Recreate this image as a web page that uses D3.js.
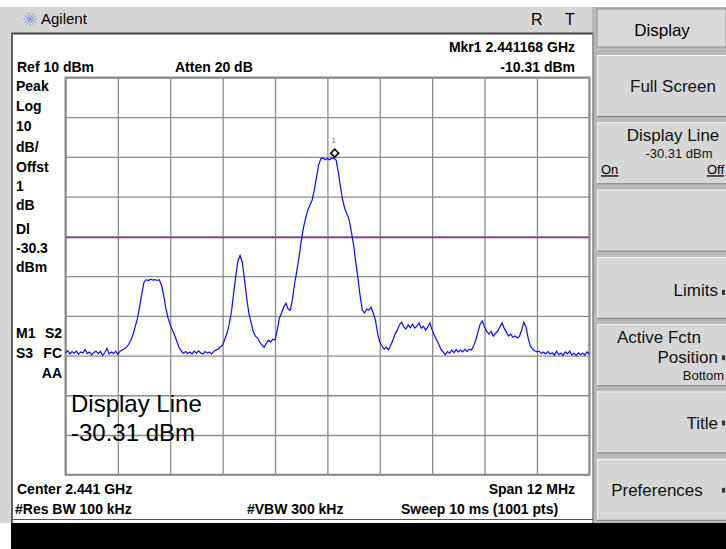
<!DOCTYPE html>
<html><head><meta charset="utf-8">
<script src="https://cdn.jsdelivr.net/npm/d3@7"></script>
<style>body{margin:0;background:#fff;overflow:hidden}svg{display:block}</style>
</head><body>
<svg id="c" width="726" height="549"></svg>
<script>
// ---- Data ----
const startMHz = 2435, stopMHz = 2447;           // Center 2.441 GHz, Span 12 MHz
const refLevelDbm = 10, dbPerDiv = 10, divisions = 10;
const markerFreqMHz = 2441.168, markerDbm = -10.31;
const displayLineDbm = -30.31;
// trace amplitudes (dBm), evenly spaced across the sweep
const traceDbm = [
-59.3,-58.8,-59.6,-59.0,-59.4,-58.9,-59.7,-59.1,-59.3,-58.5,
-59.5,-59.1,-59.8,-59.2,-58.9,-59.5,-59.0,-60.0,-59.3,-58.2,
-59.6,-59.1,-59.5,-58.9,-59.7,-58.9,-58.6,-58.3,-57.9,-57.1,
-56.1,-54.6,-52.6,-50.6,-47.6,-44.3,-41.5,-40.9,-41.1,-40.8,
-41.0,-40.9,-41.1,-40.9,-42.3,-45.0,-48.1,-50.6,-52.3,-53.6,
-54.9,-56.4,-57.9,-58.9,-59.4,-59.0,-59.5,-59.1,-59.6,-58.9,
-59.4,-58.8,-59.4,-59.6,-59.0,-59.4,-59.1,-59.6,-58.9,-58.6,
-58.4,-57.8,-57.4,-55.9,-54.4,-52.1,-49.1,-44.5,-40.0,-36.2,
-34.8,-36.5,-40.8,-45.5,-49.3,-51.6,-53.9,-55.1,-55.6,-56.6,
-57.4,-57.9,-56.9,-56.1,-56.6,-55.9,-56.1,-53.6,-50.6,-49.3,
-47.8,-46.8,-48.3,-48.6,-45.8,-41.8,-38.7,-35.2,-31.2,-27.9,
-25.4,-23.4,-22.1,-20.9,-18.3,-15.1,-12.0,-10.4,-10.3,-10.7,
-10.4,-10.7,-10.3,-10.35,-10.8,-13.8,-17.6,-20.9,-23.1,-24.4,
-25.9,-28.9,-32.2,-36.5,-40.5,-45.0,-48.6,-49.3,-48.3,-48.6,
-47.8,-49.3,-51.1,-54.4,-56.6,-57.6,-58.4,-57.9,-58.6,-57.4,
-56.1,-54.6,-53.6,-52.3,-51.6,-52.8,-53.3,-52.3,-53.0,-52.1,
-53.1,-52.6,-51.8,-53.1,-52.6,-53.6,-52.8,-51.8,-53.6,-54.9,
-56.1,-57.1,-58.4,-59.1,-59.8,-59.0,-59.4,-58.6,-59.3,-58.5,
-59.1,-58.6,-59.1,-58.4,-59.0,-58.4,-58.6,-57.6,-56.1,-54.1,
-52.1,-51.3,-52.8,-53.9,-54.6,-53.9,-55.1,-54.4,-53.9,-52.8,
-51.8,-53.1,-54.1,-55.1,-54.6,-55.4,-55.1,-55.6,-55.1,-53.6,
-51.6,-52.8,-55.6,-57.6,-58.4,-58.8,-59.1,-58.9,-59.5,-59.1,
-59.6,-59.0,-59.6,-59.3,-59.9,-58.9,-59.8,-59.4,-60.0,-59.1,
-59.6,-58.9,-59.9,-59.4,-60.0,-59.3,-59.8,-59.4,-59.9,-59.1,
-59.6
];
const headerLeft = ["Ref 10 dBm", "Atten 20 dB"];
const headerRight = ["Mkr1  2.441168 GHz", "-10.31 dBm"];
const sideLabels = ["Peak","Log","10","dB/","Offst","1","dB","Dl","-30.3","dBm"];
const statusLabels = [["M1","S2"],["S3","FC"],["","AA"]];
const footer = ["Center 2.441 GHz","Span 12 MHz","#Res BW 100 kHz","#VBW 300 kHz","Sweep 10 ms (1001 pts)"];
const activeFn = ["Display Line","-30.31 dBm"];
const softkeys = [
  {lines:[["Full Screen","middle",76,37,17]]},
  {lines:[["Display Line","middle",76,19,17],["-30.31 dBm","middle",82,36,13]], onoff:true},
  {lines:[]},
  {lines:[["Limits","end",121,39,17]], arrow:36},
  {lines:[["Active Fctn","middle",62,19,17],["Position","end",121,39,17],["Bottom","end",127,56,13]], arrow:34},
  {lines:[["Title","end",121,37,17]], arrow:32},
  {lines:[["Preferences","middle",60,37,17]], arrow:32}
];

// ---- Drawing ----
const svg = d3.select("#c");
const font = "'Liberation Sans', Arial, sans-serif";
const P = {l:65.5, r:589.3, t:77.5, b:474.7};

// frame & chrome
svg.append("rect").attr("x",0).attr("y",0).attr("width",726).attr("height",549).attr("fill","#ffffff");
svg.append("rect").attr("x",0).attr("y",7).attr("width",600).attr("height",27).attr("fill","#d6d6d6");
svg.append("rect").attr("x",0).attr("y",7).attr("width",11).attr("height",516).attr("fill","#d6d6d6");
svg.append("rect").attr("x",592).attr("y",7).attr("width",134).attr("height",516).attr("fill","#b8b8b8");
svg.append("rect").attr("x",11).attr("y",523).attr("width",715).attr("height",26).attr("fill","#000");
svg.append("rect").attr("x",11).attr("y",33).attr("width",582).attr("height",490).attr("fill","#fff");
svg.append("line").attr("x1",11).attr("x2",593).attr("y1",33.5).attr("y2",33.5).attr("stroke","#404040").attr("stroke-width",2);
svg.append("line").attr("x1",12).attr("x2",12).attr("y1",33).attr("y2",523).attr("stroke","#606060").attr("stroke-width",2);
svg.append("line").attr("x1",593).attr("x2",593).attr("y1",33).attr("y2",523).attr("stroke","#808080").attr("stroke-width",1.5);
svg.append("line").attr("x1",11).attr("x2",593).attr("y1",519.5).attr("y2",519.5).attr("stroke","#505050").attr("stroke-width",1);

// title bar
const logo = svg.append("g").attr("transform","translate(30,19)");
d3.range(0,360,30).forEach(a=>{
  logo.append("line").attr("x1",0).attr("y1",0)
    .attr("x2",7*Math.cos(a*Math.PI/180)).attr("y2",7*Math.sin(a*Math.PI/180))
    .attr("stroke","#6b7de0").attr("stroke-width",1).attr("stroke-dasharray","1.5,1");
});
svg.append("text").attr("x",41).attr("y",24).attr("font-family",font).attr("font-size",15).attr("fill","#000").text("Agilent");
svg.append("text").attr("x",531).attr("y",25).attr("font-family",font).attr("font-size",16).attr("fill","#000").text("R");
svg.append("text").attr("x",565).attr("y",25).attr("font-family",font).attr("font-size",16).attr("fill","#000").text("T");

// softkeys
const sk = svg.append("g");
sk.append("rect").attr("x",597).attr("y",9).attr("width",129).attr("height",38).attr("fill","#d8d8d8").attr("stroke","#909090");
sk.append("text").attr("x",662).attr("y",36).attr("text-anchor","middle").attr("font-family",font).attr("font-size",17).text("Display");
softkeys.forEach((k,i)=>{
  const top = 55 + i*67.3, h = 62;
  const g = sk.append("g").attr("transform",`translate(597,${top})`);
  g.append("rect").attr("x",0).attr("y",0).attr("width",129).attr("height",h).attr("fill","#d6d6d6");
  g.append("line").attr("x1",0).attr("x2",129).attr("y1",0.5).attr("y2",0.5).attr("stroke","#f4f4f4");
  g.append("line").attr("x1",0.5).attr("x2",0.5).attr("y1",0).attr("y2",h).attr("stroke","#f4f4f4");
  g.append("line").attr("x1",0).attr("x2",129).attr("y1",h-0.5).attr("y2",h-0.5).attr("stroke","#7a7a7a");
  k.lines.forEach(ln=>{
    g.append("text").attr("x",ln[2]).attr("y",ln[3]).attr("text-anchor",ln[1]).attr("font-family",font)
      .attr("font-size",ln[4]).attr("fill","#111").text(ln[0]);
  });
  if (k.onoff) {
    g.append("text").attr("x",4).attr("y",52).attr("font-family",font).attr("font-size",13).attr("text-decoration","underline").text("On");
    g.append("text").attr("x",127).attr("y",52).attr("text-anchor","end").attr("font-family",font).attr("font-size",13).attr("text-decoration","underline").text("Off");
  }
  if (k.arrow) {
    g.append("rect").attr("x",125).attr("y",k.arrow-3).attr("width",3).attr("height",5).attr("fill","#333");
  }
});

// scales
const x = d3.scaleLinear().domain([startMHz, stopMHz]).range([P.l, P.r]);
const y = d3.scaleLinear().domain([refLevelDbm - dbPerDiv*divisions, refLevelDbm]).range([P.b, P.t]);
const idx = d3.scaleLinear().domain([0, traceDbm.length-1]).range([startMHz, stopMHz]);

// grid via axes
const xTicks = d3.range(divisions+1).map(i=>startMHz + i*(stopMHz-startMHz)/divisions);
const yTicks = d3.range(divisions+1).map(i=>refLevelDbm - i*dbPerDiv);
const gx = svg.append("g").attr("transform",`translate(0,${P.b})`)
  .call(d3.axisBottom(x).tickValues(xTicks).tickSize(-(P.b-P.t)).tickFormat(""));
const gy = svg.append("g").attr("transform",`translate(${P.l},0)`)
  .call(d3.axisLeft(y).tickValues(yTicks).tickSize(-(P.r-P.l)).tickFormat(""));
[gx,gy].forEach(g=>{
  g.select(".domain").remove();
  g.selectAll(".tick line").attr("stroke","#8c8c8c").attr("stroke-width",1.3);
});
svg.append("rect").attr("x",P.l).attr("y",P.t).attr("width",P.r-P.l).attr("height",P.b-P.t)
  .attr("fill","none").attr("stroke","#8c8c8c").attr("stroke-width",2);

// display line
svg.append("line").attr("x1",P.l).attr("x2",P.r).attr("y1",y(displayLineDbm)).attr("y2",y(displayLineDbm))
  .attr("stroke","#9a2f86").attr("stroke-width",1.5);

// trace
const line = d3.line().x((d,i)=>x(idx(i))).y(d=>y(d));
svg.append("path").datum(traceDbm).attr("d",line).attr("fill","none").attr("stroke","#0a0aff").attr("stroke-width",1.2);

// marker
const mx = x(markerFreqMHz), my = y(markerDbm);
svg.append("path").attr("d",d3.symbol(d3.symbolDiamond2 || d3.symbolDiamond,40)())
  .attr("transform",`translate(${mx},${my-5})`).attr("fill","#fff").attr("stroke","#000").attr("stroke-width",1.6);
svg.append("text").attr("x",mx-1).attr("y",my-15).attr("text-anchor","middle").attr("font-family",font).attr("font-size",8).attr("fill","#666").text("1");

// texts
const bold = (t,xx,yy,anchor="start",size=14)=>svg.append("text").attr("x",xx).attr("y",yy).attr("text-anchor",anchor)
  .attr("font-family",font).attr("font-weight","bold").attr("font-size",size).attr("fill","#000").text(t);
bold(headerRight[0],575,52,"end");
bold(headerLeft[0],17,72);
bold(headerLeft[1],175,72);
bold(headerRight[1],575,72,"end");
const sideY = [91,111,131,152,172,191,210,234,253,272];
sideLabels.forEach((t,i)=>bold(t,16,sideY[i]));
const statusY = [338,358,378];
statusLabels.forEach((p,i)=>{ if (p[0]) bold(p[0],16,statusY[i]); bold(p[1],62,statusY[i],"end"); });
bold(footer[0],17,494); bold(footer[1],575,494,"end");
bold(footer[2],15,514); bold(footer[3],247,514); bold(footer[4],401,514);
svg.append("text").attr("x",71).attr("y",412).attr("font-family",font).attr("font-size",24).attr("fill","#000").text(activeFn[0]);
svg.append("text").attr("x",71).attr("y",441).attr("font-family",font).attr("font-size",24).attr("fill","#000").text(activeFn[1]);
</script>
</body></html>
